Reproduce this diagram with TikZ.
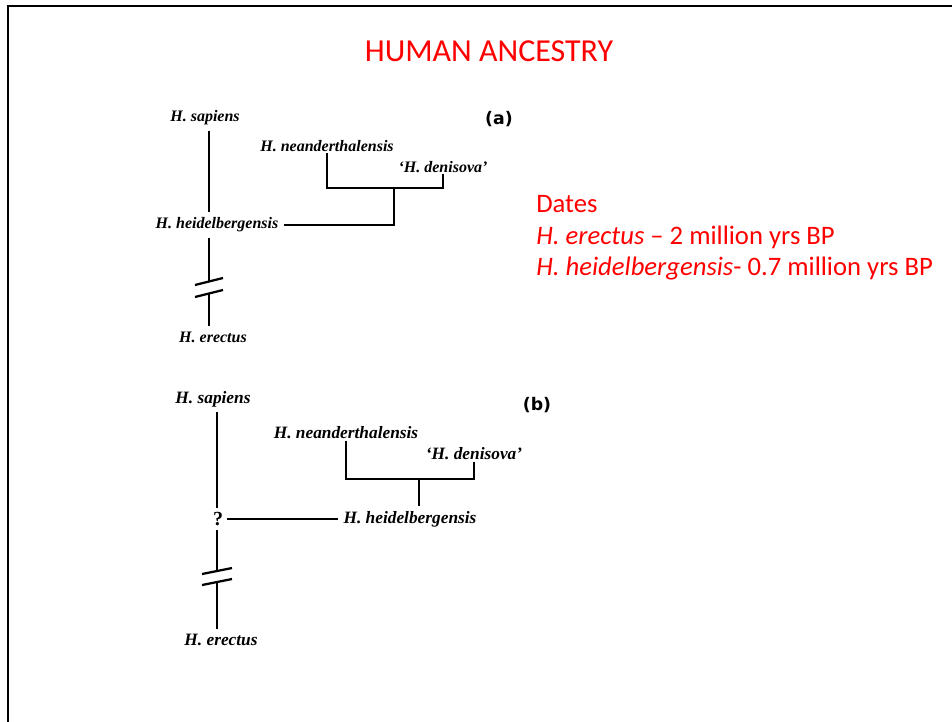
\documentclass[tikz,border=0pt]{standalone}
\usepackage{fontspec}
\setmainfont{Liberation Serif}
\newfontfamily\slidefont{Carlito}
\newfontfamily\panelfont{DejaVu Sans}
\usepackage{xcolor}
\usepackage{tikz}
\usetikzlibrary{calc}
\definecolor{slidered}{RGB}{255,0,0}
\tikzset{
	taxon/.style={font=\bfseries\itshape\fontsize{12}{14}\selectfont, inner sep=3.75pt},
	taxonB/.style={taxon, font=\bfseries\itshape\fontsize{13}{15}\selectfont},
	tip/.style={inner sep=1pt},
	branch/.style={line width=1.7pt},
	panel/.style={font=\panelfont\bfseries\fontsize{13}{15}\selectfont},
}

\begin{document}
\begin{tikzpicture}[x=0.75pt,y=-0.75pt]
	\useasboundingbox (0,0) rectangle (952,721);
	% Slide frame
	\draw[line width=1.5pt] (8,730) -- (8,6) -- (960,6);
	% Title and dates
	\node[font=\slidefont\fontsize{24}{28}\selectfont, text=slidered, anchor=base] (title) at (489,61) {HUMAN ANCESTRY};
	\node[font=\slidefont\fontsize{20}{23.6}\selectfont, text=slidered, anchor=base west, align=left, inner sep=0pt] (dates) at (536,275.5)
		{Dates\\\textit{H. erectus} – 2 million yrs BP\\\textit{H. heidelbergensis}- 0.7 million yrs BP};

	% Tree (a)
	\node[taxon] (sapA) at (205,118) {H. sapiens};
	\node[taxon] (heiA) at (217,225) {H. heidelbergensis};
	\node[taxon] (ereA) at (213,337) {H. erectus};
	\node[taxon,tip] (neaA) at (327,146) {H. neanderthalensis};
	\node[taxon,tip] (denA) at (443,167) {‘H. denisova’};
	\node[panel] (labA) at (499,119) {(a)};
	\coordinate (jA) at (394,188);
	\coordinate (brA) at (209,287.5);
	\draw[branch] (sapA.south -| brA) -- (heiA.north -| brA);
	\draw[branch] (heiA.east) -| (jA);
	\draw[branch] (neaA.south) |- (jA) -| (denA.south);
	\draw[branch] (heiA.south -| brA) -- ($(brA)+(0,-6)$);
	\draw[branch] ($(brA)+(0,6)$) -- (ereA.north -| brA);
	\foreach \d in {-6,6}{
		\draw[branch] ($(brA)+(-14,\d+3.5)$) -- ($(brA)+(14,\d-3.5)$);
	}

	% Tree (b)
	\node[taxonB] (sapB) at (213,399) {H. sapiens};
	\node[taxonB, font=\bfseries\fontsize{15}{17}\selectfont, inner sep=3pt] (qB) at (218,519) {?};
	\node[taxonB] (heiB) at (410,519) {H. heidelbergensis};
	\node[taxonB] (ereB) at (221,640) {H. erectus};
	\node[taxonB,tip] (neaB) at (346,433) {H. neanderthalensis};
	\node[taxonB,tip] (denB) at (474,454) {‘H. denisova’};
	\node[panel] (labB) at (537,405) {(b)};
	\coordinate (jB) at (419,479);
	\coordinate (brB) at (217,576.5);
	\draw[branch] (sapB.south -| brB) -- (qB.north -| brB);
	\draw[branch] (qB.east) -- (heiB.west);
	\draw[branch] (heiB.north -| jB) -- (jB);
	\draw[branch] (neaB.south) |- (jB) -| (denB.south);
	\draw[branch] (qB.south -| brB) -- ($(brB)+(0,-6)$);
	\draw[branch] ($(brB)+(0,6)$) -- (ereB.north -| brB);
	\foreach \d in {-5.5,5.5}{
		\draw[branch] ($(brB)+(-15,\d+3)$) -- ($(brB)+(15,\d-3)$);
	}
\end{tikzpicture}
\end{document}
